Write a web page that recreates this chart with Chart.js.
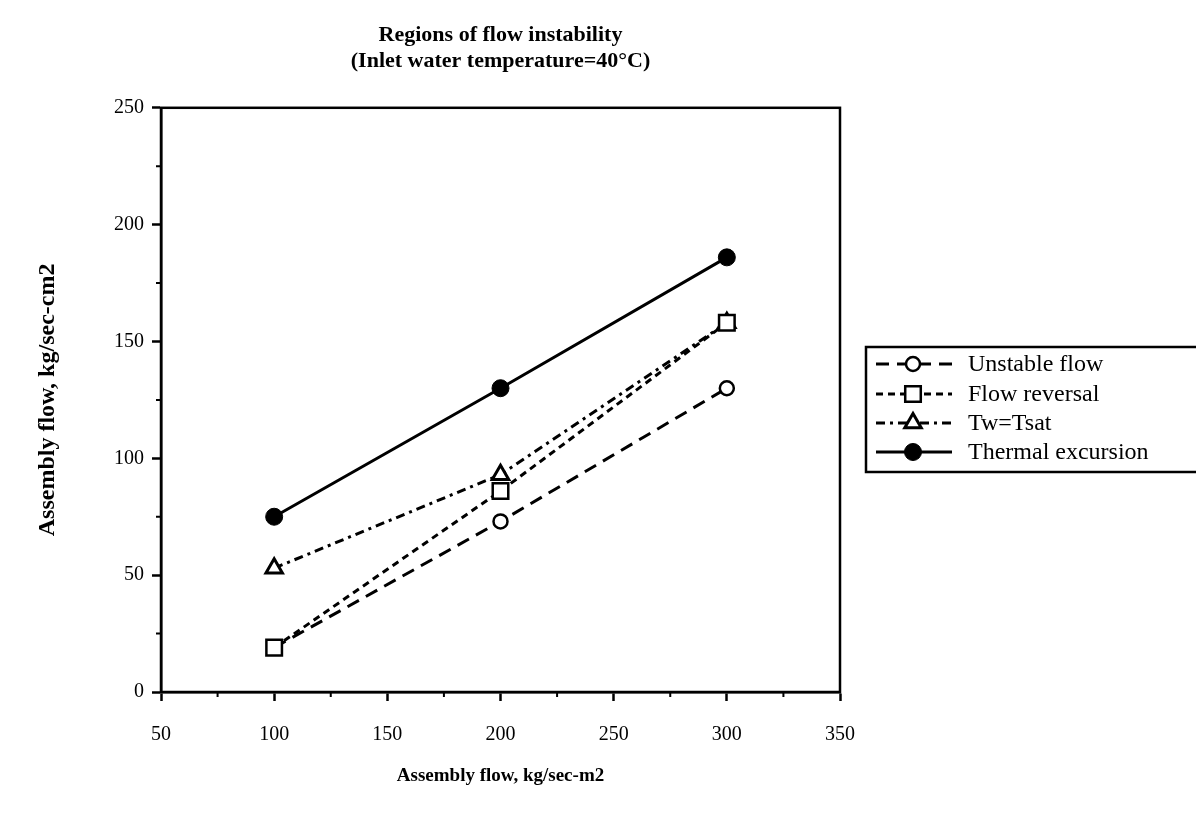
<!DOCTYPE html>
<html>
<head>
<meta charset="utf-8">
<title>Regions of flow instability</title>
<script src="https://cdn.jsdelivr.net/npm/chart.js@4.4.1/dist/chart.umd.min.js"></script>
<style>
  html, body { margin: 0; padding: 0; background: #fff; }
  #wrap { width: 1196px; height: 818px; }
</style>
</head>
<body>
<div id="wrap"><canvas id="flowChart" width="1196" height="818"></canvas></div>
<script>
// Data
const flowX = [100, 200, 300];
const unstableFlow = [19, 73, 130];
const flowReversal = [19, 86, 158];
const twTsat = [53, 93, 158];
const thermalExcursion = [75, 130, 186];

const seriesNames = ['Unstable flow', 'Flow reversal', 'Tw=Tsat', 'Thermal excursion'];

// Axis ranges and minor ticks
const xRange = [50, 350];
const yRange = [0, 250];
const xMinorTicks = [75, 125, 175, 225, 275, 325];
const yMinorTicks = [25, 75, 125, 175, 225];

const SERIF = "'Liberation Serif', 'Times New Roman', serif";
const INK = '#000';

function points(ys) {
  return flowX.map((x, i) => ({ x, y: ys[i] }));
}

// Frame and minor ticks
const framePlugin = {
  id: 'frame',
  afterDatasetsDraw(chart) {
    const { ctx, chartArea: a, scales } = chart;
    ctx.save();
    ctx.strokeStyle = INK;
    ctx.lineWidth = 2.5;
    ctx.setLineDash([]);
    ctx.strokeRect(a.left, a.top, a.right - a.left, a.bottom - a.top);

    ctx.lineWidth = 2;
    ctx.beginPath();
    xMinorTicks.forEach(v => {
      const px = scales.x.getPixelForValue(v);
      ctx.moveTo(px, a.bottom);
      ctx.lineTo(px, a.bottom + 5);
    });
    yMinorTicks.forEach(v => {
      const py = scales.y.getPixelForValue(v);
      ctx.moveTo(a.left, py);
      ctx.lineTo(a.left - 5, py);
    });
    ctx.stroke();
    ctx.restore();
  }
};

// Legend box on the right, dashed sample line with marker
const legendPlugin = {
  id: 'sideLegend',
  afterDraw(chart) {
    const { ctx } = chart;
    const box = { left: 866, top: 347, right: 1196, bottom: 472 };
    const rowY = [364, 394, 423, 452];
    ctx.save();
    ctx.strokeStyle = INK;
    ctx.lineWidth = 2.5;
    ctx.setLineDash([]);
    ctx.strokeRect(box.left, box.top, box.right - box.left + 4, box.bottom - box.top);

    chart.data.datasets.forEach((ds, i) => {
      const y = rowY[i];
      ctx.strokeStyle = INK;
      ctx.lineWidth = ds.borderWidth;
      ctx.setLineDash(ds.borderDash || []);
      ctx.beginPath();
      ctx.moveTo(876, y);
      ctx.lineTo(952, y);
      ctx.stroke();

      ctx.setLineDash([]);
      ctx.fillStyle = ds.pointBackgroundColor;
      ctx.strokeStyle = INK;
      ctx.lineWidth = ds.pointBorderWidth;
      Chart.helpers.drawPoint(ctx, {
        pointStyle: ds.pointStyle,
        radius: ds.pointRadius,
        borderWidth: ds.pointBorderWidth,
        rotation: 0
      }, 913, y);

      ctx.fillStyle = INK;
      ctx.font = `24px ${SERIF}`;
      ctx.textAlign = 'left';
      ctx.textBaseline = 'middle';
      ctx.fillText(seriesNames[i], 968, y + 1);
    });
    ctx.restore();
  }
};

new Chart(document.getElementById('flowChart'), {
  type: 'line',
  data: {
    datasets: [
      {
        label: seriesNames[0],
        data: points(unstableFlow),
        borderColor: INK,
        borderWidth: 3,
        borderDash: [13, 8],
        pointStyle: 'circle',
        pointRadius: 7,
        pointBorderWidth: 2.5,
        pointBackgroundColor: '#fff',
        pointBorderColor: INK,
        order: 3
      },
      {
        label: seriesNames[1],
        data: points(flowReversal),
        borderColor: INK,
        borderWidth: 3,
        borderDash: [7, 5],
        pointStyle: 'rect',
        pointRadius: 11,
        pointBorderWidth: 2.5,
        pointBackgroundColor: '#fff',
        pointBorderColor: INK,
        order: 1
      },
      {
        label: seriesNames[2],
        data: points(twTsat),
        borderColor: INK,
        borderWidth: 3,
        borderDash: [9, 5, 3, 5],
        pointStyle: 'triangle',
        pointRadius: 9.5,
        pointBorderWidth: 3,
        pointBackgroundColor: '#fff',
        pointBorderColor: INK,
        order: 2
      },
      {
        label: seriesNames[3],
        data: points(thermalExcursion),
        borderColor: INK,
        borderWidth: 3,
        pointStyle: 'circle',
        pointRadius: 8.5,
        pointBorderWidth: 1,
        pointBackgroundColor: INK,
        pointBorderColor: INK,
        order: 0
      }
    ]
  },
  options: {
    responsive: false,
    animation: false,
    layout: { padding: { left: 0, right: 356, top: 0, bottom: 0 } },
    plugins: {
      legend: { display: false },
      tooltip: { enabled: false },
      title: {
        display: true,
        fullSize: false,
        text: ['Regions of flow instability', '(Inlet water temperature=40°C)'],
        color: INK,
        font: { family: SERIF, size: 22, weight: 'bold', lineHeight: 1.2 },
        padding: { top: 22, bottom: 33 }
      }
    },
    scales: {
      x: {
        type: 'linear',
        min: xRange[0],
        max: xRange[1],
        ticks: {
          stepSize: 50,
          color: INK,
          padding: 22,
          font: { family: SERIF, size: 20 }
        },
        grid: {
          drawOnChartArea: false,
          drawTicks: true,
          tickLength: 9,
          tickWidth: 2.5,
          tickColor: INK
        },
        border: { display: true, color: INK, width: 2.5 },
        title: {
          display: true,
          text: 'Assembly flow, kg/sec-m2',
          color: INK,
          font: { family: SERIF, size: 19, weight: 'bold' },
          padding: { top: 4, bottom: 31 }
        },
        afterFit(scale) { scale.height = 126; }
      },
      y: {
        type: 'linear',
        min: yRange[0],
        max: yRange[1],
        ticks: {
          stepSize: 50,
          color: INK,
          padding: 8,
          font: { family: SERIF, size: 20 }
        },
        grid: {
          drawOnChartArea: false,
          drawTicks: true,
          tickLength: 9,
          tickWidth: 2.5,
          tickColor: INK
        },
        border: { display: true, color: INK, width: 2.5 },
        title: {
          display: true,
          text: 'Assembly flow, kg/sec-cm2',
          color: INK,
          font: { family: SERIF, size: 24, weight: 'bold' },
          padding: { top: 33, bottom: 4 }
        },
        afterFit(scale) { scale.width = 161; }
      }
    }
  },
  plugins: [framePlugin, legendPlugin]
});
</script>
</body>
</html>
